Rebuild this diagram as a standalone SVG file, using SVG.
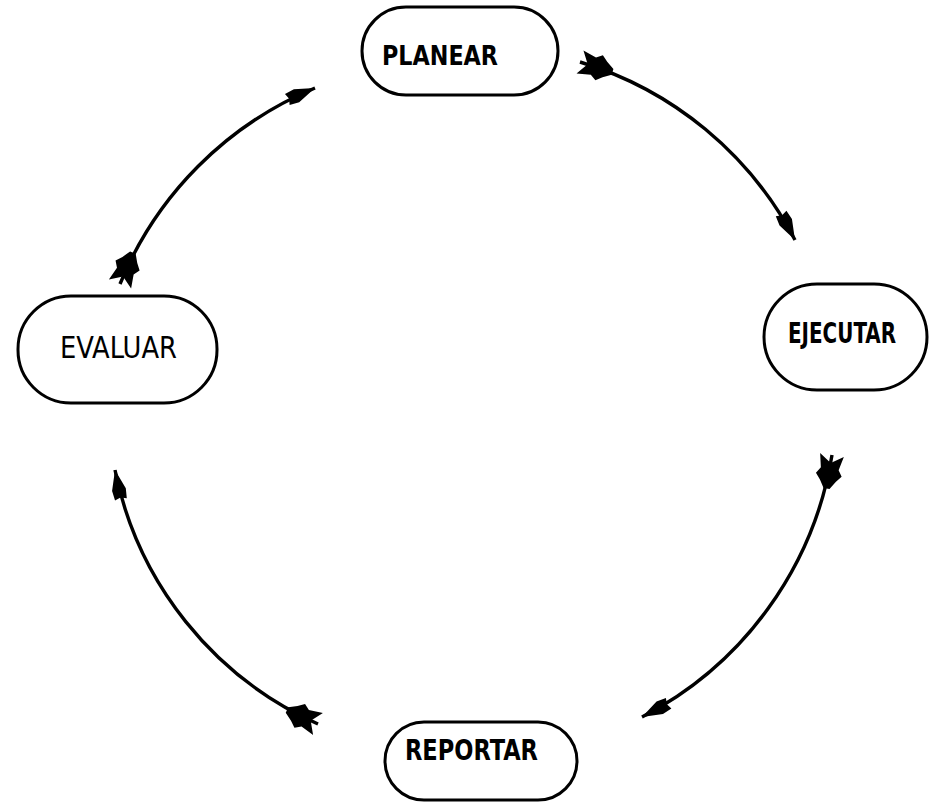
<svg xmlns="http://www.w3.org/2000/svg" width="932" height="805" viewBox="0 0 932 805">
<style>
.box{fill:#fff;stroke:#000;stroke-width:3}
.lbl{font-family:"Liberation Sans Narrow","DejaVu Sans Condensed","Liberation Sans",sans-serif;font-stretch:condensed;fill:#000}
.b{font-weight:bold}
.arc{fill:none;stroke:#000;stroke-width:3.4;marker-start:url(#tail);marker-end:url(#head)}
</style>
<defs>
<marker id="head" markerUnits="userSpaceOnUse" markerWidth="32" markerHeight="20" refX="30" refY="10" orient="auto" overflow="visible">
<path d="M0,4 L10,3 L30,10 L10,17 L0,16 L2,10 Z" fill="#000"/>
</marker>
<marker id="tail" markerUnits="userSpaceOnUse" markerWidth="36" markerHeight="28" refX="0" refY="14" orient="auto" overflow="visible">
<path d="M0,2 L14,5 L20,1 L26,6 L34,11 L34,17 L26,22 L20,27 L14,23 L0,26 L8,14 Z" fill="#000"/>
</marker>
</defs>
<rect width="932" height="805" fill="#fff"/>
<g id="connectors">
<path class="arc" d="M580,62 A360,360 0 0 1 795,240"/>
<path class="arc" d="M832,455 A360,360 0 0 1 642,717"/>
<path class="arc" d="M318,724 A355,355 0 0 1 115,470"/>
<path class="arc" d="M120,284 A360,360 0 0 1 315,88"/>
</g>
<g id="planear">
<rect class="box" x="362" y="7" width="196" height="88" rx="44"/>
<text class="lbl b" x="382" y="65" font-size="26" textLength="116" lengthAdjust="spacingAndGlyphs">PLANEAR</text>
</g>
<g id="ejecutar">
<rect class="box" x="764" y="284" width="163" height="106" rx="53"/>
<text class="lbl b" x="788" y="343" font-size="29" textLength="108" lengthAdjust="spacingAndGlyphs">EJECUTAR</text>
</g>
<g id="reportar">
<rect class="box" x="385" y="722" width="192" height="78" rx="39"/>
<text class="lbl b" x="405" y="760" font-size="29" textLength="133" lengthAdjust="spacingAndGlyphs">REPORTAR</text>
</g>
<g id="evaluar">
<rect class="box" x="18" y="296" width="199" height="107" rx="53"/>
<text class="lbl" x="60" y="358" font-size="31" textLength="117" lengthAdjust="spacingAndGlyphs">EVALUAR</text>
</g>
</svg>
